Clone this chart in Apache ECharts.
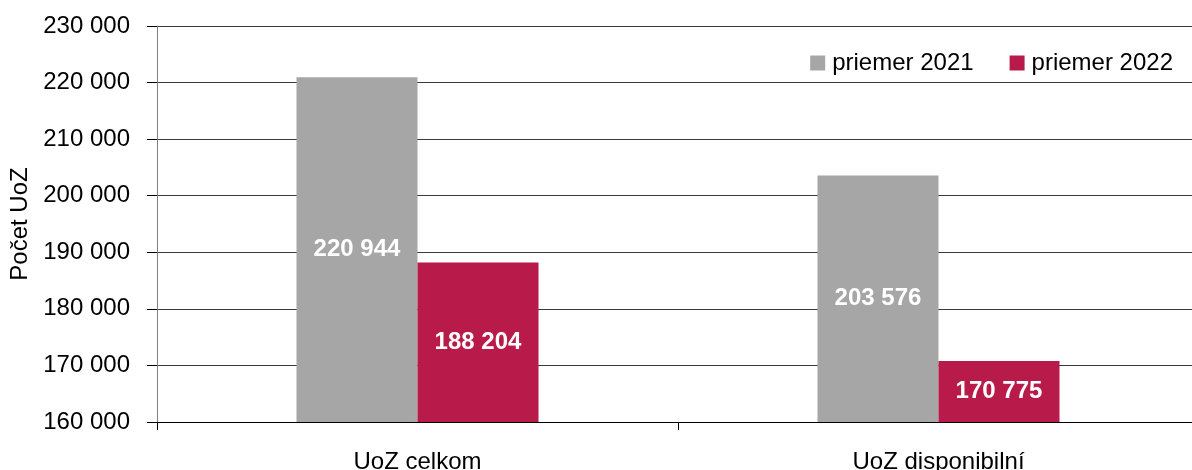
<!DOCTYPE html>
<html>
<head>
<meta charset="utf-8">
<script src="https://cdn.jsdelivr.net/npm/echarts@6/dist/echarts.min.js"></script>
<style>
  html, body { margin: 0; padding: 0; background: #fff; }
  #chart { width: 1192px; height: 470px; }
</style>
</head>
<body>
<div id="chart"></div>
<script>
// kategórie a hodnoty
var categories = ['UoZ celkom', 'UoZ disponibilní'];
var seriesNames = ['priemer 2021', 'priemer 2022'];
var avg2021 = [220944, 203576];
var avg2022 = [188204, 170775];
var yTicks = { min: 160000, max: 230000, step: 10000 };

var FONT = "'Liberation Sans', Arial, sans-serif";

// 230000 -> "230 000"
function fmt(v) {
  return String(v).replace(/\B(?=(\d{3})+(?!\d))/g, ' ');
}

function barSeries(name, data, color) {
  return {
    name: name,
    type: 'bar',
    data: data,
    barWidth: 121,
    barGap: 0,
    itemStyle: { color: color },
    label: {
      show: true,
      position: 'inside',
      color: '#fff',
      fontFamily: FONT,
      fontWeight: 'bold',
      fontSize: 24,
      formatter: function (p) { return fmt(p.value); }
    }
  };
}

var chart = echarts.init(document.getElementById('chart'));
chart.setOption({
  animation: false,
  backgroundColor: '#fff',
  grid: { left: 157, right: -7, top: 26, bottom: 48, outerBoundsMode: 'none' },
  legend: {
    right: 14,
    top: 46,
    itemWidth: 15,
    itemHeight: 15,
    itemGap: 36,
    icon: 'rect',
    textStyle: { fontFamily: FONT, fontSize: 24, color: '#000', padding: [0, 0, 0, 2] },
    data: seriesNames
  },
  xAxis: {
    type: 'category',
    data: categories,
    axisLine: { lineStyle: { color: '#000', width: 1 } },
    axisTick: { show: true, length: 8, lineStyle: { color: '#000' } },
    axisLabel: { fontFamily: FONT, fontSize: 24, color: '#000', margin: 28 }
  },
  yAxis: {
    type: 'value',
    min: yTicks.min,
    max: yTicks.max,
    interval: yTicks.step,
    name: 'Počet UoZ',
    nameLocation: 'middle',
    nameGap: 120,
    nameTextStyle: { fontFamily: FONT, fontSize: 24, color: '#000' },
    axisLine: { show: true, lineStyle: { color: '#7f7f7f' } },
    axisTick: { show: true, length: 10, lineStyle: { color: '#000' } },
    axisLabel: {
      fontFamily: FONT, fontSize: 24, color: '#000', margin: 27,
      formatter: fmt
    },
    splitLine: { show: true, lineStyle: { color: '#3a3a3a', width: 1 } }
  },
  series: [
    barSeries(seriesNames[0], avg2021, '#a6a6a6'),
    barSeries(seriesNames[1], avg2022, '#b81b4a')
  ]
});
</script>
</body>
</html>
